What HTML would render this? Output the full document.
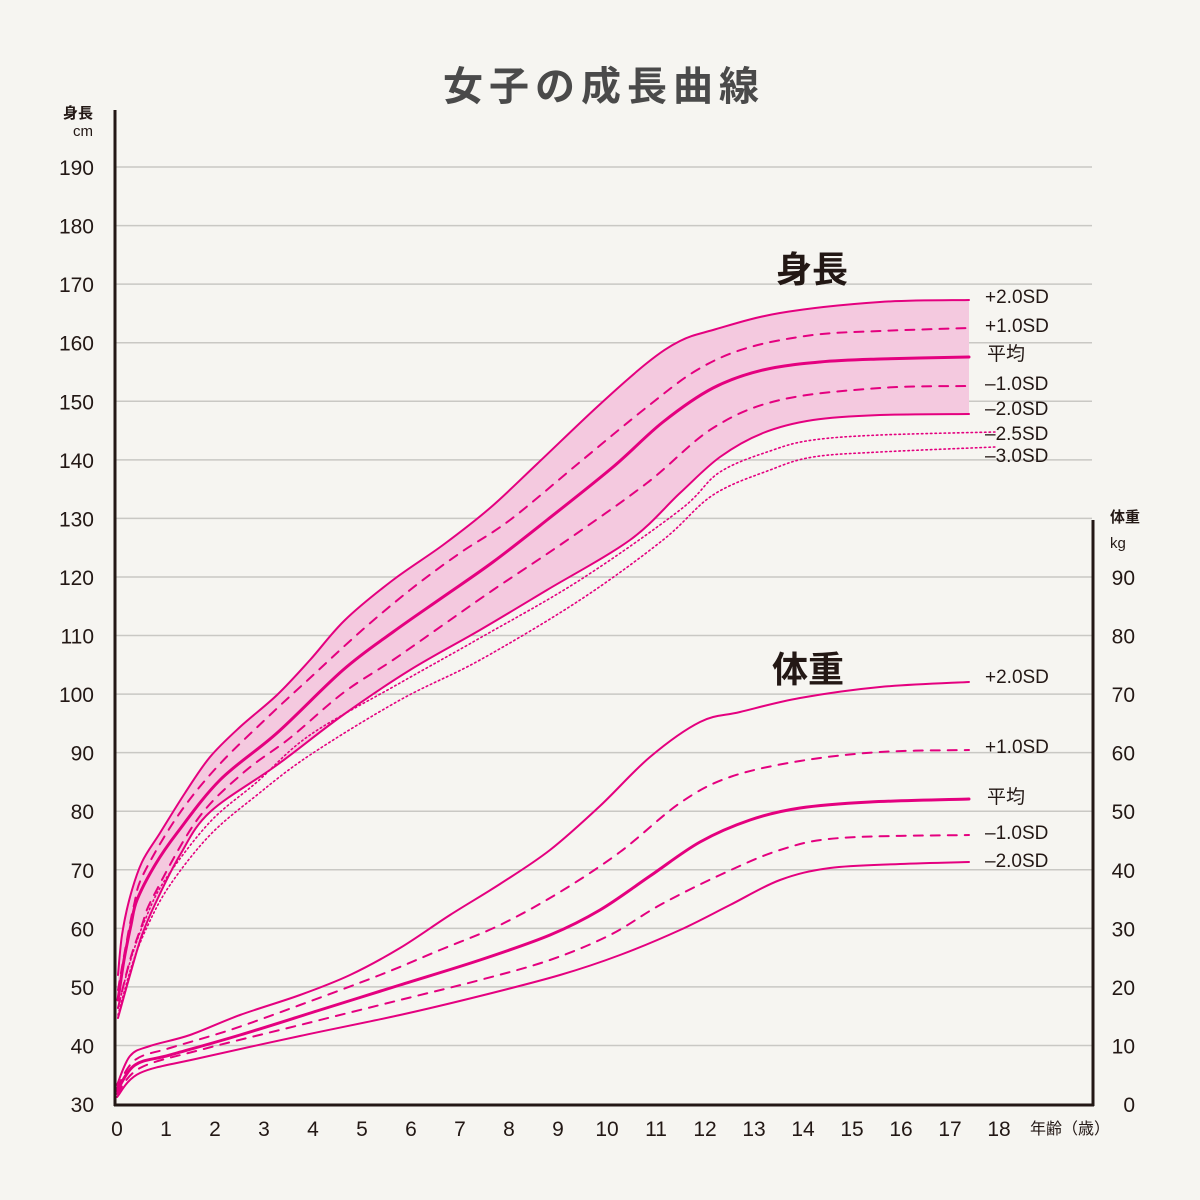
<!DOCTYPE html>
<html><head><meta charset="utf-8"><style>
body{margin:0;background:#f6f5f1}
svg{display:block}
text{font-family:"Liberation Sans","Noto Sans CJK JP",sans-serif;fill:#231815}
</style></head><body>
<svg id="s" width="1200" height="1200" viewBox="0 0 1200 1200">
<rect width="1200" height="1200" fill="#f6f5f1"/>
<text x="604" y="100" font-size="40" text-anchor="middle" style="fill:#4a4a4a;letter-spacing:6px" font-weight="bold">女子の成長曲線</text>
<g id="grid" stroke="#c9c8c4" stroke-width="1.5"></g>
<g id="ylab" font-size="21" text-anchor="end"></g>
<text x="93" y="118" font-size="15" text-anchor="end" font-weight="bold">身長</text>
<text x="93" y="136" font-size="15" text-anchor="end">cm</text>
<text x="1110" y="522" font-size="15" font-weight="bold">体重</text>
<text x="1110" y="548" font-size="15">kg</text>
<path id="band" fill="#f4c9df"/>
<g id="curves" fill="none" stroke="#e4007f" stroke-linecap="round" stroke-linejoin="round"></g>
<line x1="115" y1="110" x2="115" y2="1106" stroke="#231815" stroke-width="3"/>
<line x1="114" y1="1105" x2="1094" y2="1105" stroke="#231815" stroke-width="3"/>
<line x1="1093" y1="520" x2="1093" y2="1106" stroke="#231815" stroke-width="3"/>
<g id="xlab" font-size="21" text-anchor="middle"></g>
<text x="1070" y="1134" font-size="16" text-anchor="middle">年齢（歳）</text>
<text x="812" y="282" font-size="36" text-anchor="middle" font-weight="bold">身長</text>
<text x="808" y="682" font-size="36" text-anchor="middle" font-weight="bold">体重</text>
<g font-size="19">
<text x="985" y="303">+2.0SD</text>
<text x="985" y="332">+1.0SD</text>
<text x="987" y="360">平均</text>
<text x="985" y="390">–1.0SD</text>
<text x="985" y="415">–2.0SD</text>
<text x="985" y="440">–2.5SD</text>
<text x="985" y="462">–3.0SD</text>
<text x="985" y="683">+2.0SD</text>
<text x="985" y="753">+1.0SD</text>
<text x="987" y="803">平均</text>
<text x="985" y="839">–1.0SD</text>
<text x="985" y="867">–2.0SD</text>
</g>
</svg>
<script>
var NS="http://www.w3.org/2000/svg";
function el(p,t,a){var e=document.createElementNS(NS,t);for(var k in a)e.setAttribute(k,a[k]);document.getElementById(p).appendChild(e);return e;}
var sp=(1104-167)/16;
for(var k=0;k<=16;k++){var y=1104-sp*k;
 if(k>0)el("grid","line",{x1:115,x2:1092,y1:y,y2:y});
 var t=el("ylab","text",{x:94,y:y+8});t.textContent=30+10*k;
 if(k<=9){var t2=el("ylab","text",{x:1135,y:y+8});t2.textContent=10*k;}
}
for(var i=0;i<=18;i++){var t=el("xlab","text",{x:117+49*i,y:1136});t.textContent=i;}
function cr(p){var d="M"+p[0][0]+","+p[0][1];for(var i=0;i<p.length-1;i++){var p0=p[i-1]||p[i],p1=p[i],p2=p[i+1],p3=p[i+2]||p2;
 d+=" C"+(p1[0]+(p2[0]-p0[0])/6)+","+(p1[1]+(p2[1]-p0[1])/6)+" "+(p2[0]-(p3[0]-p1[0])/6)+","+(p2[1]-(p3[1]-p1[1])/6)+" "+p2[0]+","+p2[1];}return d;}
var H={
p2:[[118,975],[122,935],[130,897],[142,862],[160,833],[185,793],[210,757],[240,727],[277,695],[310,660],[345,620],[393,580],[443,545],[490,508],[537,464],[597,407],[647,363],[680,341],[713,330],[780,313],[880,302],[969,300]],
p1:[[118,990],[126,945],[134,905],[143,875],[177,817],[217,767],[270,715],[310,678],[360,632],[410,590],[460,553],[510,520],[580,462],[647,407],[697,370],[747,348],[813,335],[880,331],[969,328]],
m:[[118,1000],[124,960],[131,925],[137,900],[155,865],[177,833],[220,780],[277,733],[343,670],[393,632],[443,597],[493,562],[547,520],[613,467],[663,422],[713,388],[763,370],[820,362],[880,359],[969,357]],
m1:[[118,1008],[130,960],[142,925],[153,897],[197,820],[243,773],[290,738],[343,693],[393,660],[443,625],[493,590],[563,543],[647,483],[713,428],[780,400],[880,388],[969,386]],
m2:[[118,1018],[130,975],[142,935],[157,900],[180,855],[210,812],[277,765],[343,715],[410,670],[480,630],[547,590],[630,540],[680,493],[720,457],[763,433],[813,420],[880,415],[969,414]],
m25:[[118,1008],[130,962],[145,920],[165,880],[210,822],[257,782],[310,735],[400,683],[480,638],[580,580],[680,510],[720,472],[773,450],[813,440],[880,435],[995,432]],
m3:[[118,1015],[132,965],[148,925],[170,885],[210,835],[257,795],[310,755],[400,700],[480,660],[580,600],[663,540],[713,495],[770,470],[813,457],[880,452],[995,447]]};
var W={
p2:[[117,1085],[130,1056],[150,1046],[190,1035],[240,1015],[300,995],[350,975],[400,948],[450,915],[500,884],[550,850],[600,806],[650,757],[700,722],[740,712],[800,698],[880,687],[969,682]],
p1:[[117,1088],[135,1060],[170,1048],[230,1030],[300,1005],[380,975],[440,950],[500,925],[560,892],[620,852],[680,803],[730,777],[800,761],[880,752],[969,750]],
m:[[117,1091],[135,1065],[170,1055],[240,1035],[320,1010],[400,985],[480,960],[550,935],[600,910],[650,876],[700,842],[750,820],[800,808],[870,802],[969,799]],
m1:[[117,1094],[140,1068],[200,1050],[300,1025],[400,1000],[480,980],[550,960],[610,935],[660,905],[720,875],[780,850],[840,838],[969,835]],
m2:[[117,1097],[140,1073],[200,1058],[300,1036],[400,1015],[480,996],[560,975],[620,955],[680,930],[730,905],[780,880],[830,868],[900,864],[969,862]]};
var band=cr(H.p2);var r=H.m2.slice().reverse();var rr=cr(r);band+=" L"+r[0][0]+","+r[0][1]+rr.slice(rr.indexOf(" C"));
document.getElementById("band").setAttribute("d",band+" Z");
function draw(set){
 el("curves","path",{d:cr(set.p2),"stroke-width":2});
 el("curves","path",{d:cr(set.p1),"stroke-width":2,"stroke-dasharray":"9,8"});
 el("curves","path",{d:cr(set.m),"stroke-width":3});
 el("curves","path",{d:cr(set.m1),"stroke-width":2,"stroke-dasharray":"9,8"});
 el("curves","path",{d:cr(set.m2),"stroke-width":2});
 if(set.m25){el("curves","path",{d:cr(set.m25),"stroke-width":1.6,"stroke-dasharray":"1.5,3"});
 el("curves","path",{d:cr(set.m3),"stroke-width":1.6,"stroke-dasharray":"1.5,3"});}
}
draw(H);draw(W);
</script>
</body></html>
